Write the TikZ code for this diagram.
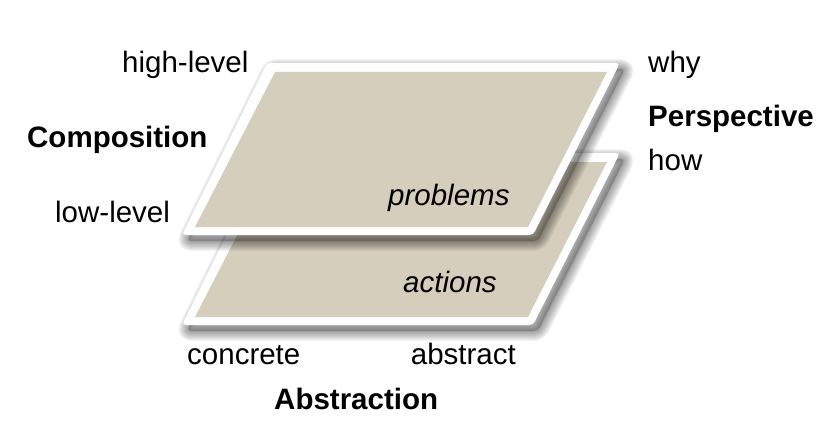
\documentclass[tikz,border=0pt]{standalone}
\usepackage{fontspec}
\setmainfont{Liberation Sans}
\definecolor{planetan}{RGB}{213,206,188}
\begin{document}
\begin{tikzpicture}[x=1pt,y=-1pt,
  lbl/.style={anchor=base west, inner sep=0pt, font=\fontsize{29.5}{34}\selectfont},
  boldlbl/.style={anchor=base west, inner sep=0pt, font=\fontsize{29.5}{34}\selectfont\bfseries},
  itlbl/.style={anchor=base west, inner sep=0pt, font=\fontsize{29.5}{34}\selectfont\itshape},
  shadowstroke/.style={draw=black, draw opacity=0.045, line join=round},
  outerplane/.style={fill=white, rounded corners=4pt},
  innerplane/.style={fill=planetan}]
\useasboundingbox (0,0) rectangle (834,441);
\newcommand\drawmyplane[1]{%
  \begin{scope}[yshift=-#1pt]
    \fill[black, opacity=0.2, shift={(5,6)}, rounded corners=4pt] (267,63) -- (620,63) -- (533,235) -- (182,235) -- cycle;
    \foreach \w in {2,4,...,20} {
      \draw[shadowstroke, line width=\w pt, shift={(5,6)}, rounded corners=4pt] (267,63) -- (620,63) -- (533,235) -- (182,235) -- cycle;
    }
    \path[outerplane] (267,63) -- (620,63) -- (533,235) -- (182,235) -- cycle;
    \path[innerplane] (275,72) -- (607,72) -- (528,227) -- (195,227) -- cycle;
  \end{scope}}
\drawmyplane{90}
\drawmyplane{0}
\node[itlbl] (problems) at (388,205) {problems};
\node[itlbl] (actions) at (403,292) {actions};
\node[lbl] (high) at (122,73) {high-level};
\node[boldlbl] (comp) at (27,147) {Composition};
\node[lbl] (low) at (55,222) {low-level};
\node[lbl] (why) at (648,73) {why};
\node[boldlbl] (persp) at (648,126) {Perspective};
\node[lbl] (how) at (648,170) {how};
\node[lbl] (concrete) at (187,364) {concrete};
\node[lbl, anchor=base east] (abstract) at (516,364) {abstract};
\node[boldlbl] (abstr) at (274,409) {Abstraction};
\end{tikzpicture}
\end{document}
